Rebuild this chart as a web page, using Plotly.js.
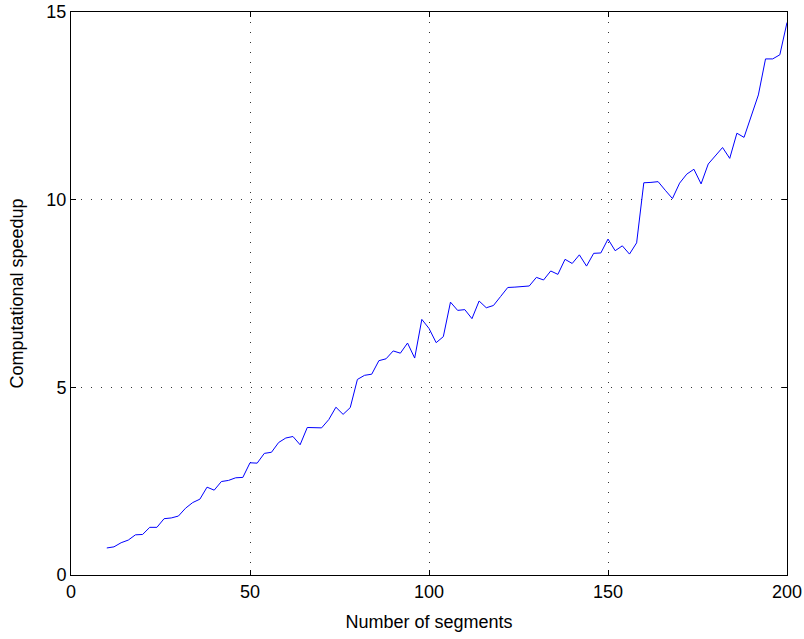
<!DOCTYPE html>
<html>
<head>
<meta charset="utf-8">
<script src="https://cdn.plot.ly/plotly-3.0.1.min.js"></script>
<style>html,body{margin:0;padding:0;background:#fff;}#chart{width:804px;height:639px;}</style>
</head>
<body>
<div id="chart"></div>
<script>
var segments = [10,12,14,16,18,20,22,24,26,28,30,32,34,36,38,40,42,44,46,48,50,52,54,56,58,60,62,64,66,68,70,72,74,76,78,80,82,84,86,88,90,92,94,96,98,100,102,104,106,108,110,112,114,116,118,120,122,124,126,128,130,132,134,136,138,140,142,144,146,148,150,152,154,156,158,160,162,164,166,168,170,172,174,176,178,180,182,184,186,188,190,192,194,196,198,200];
var speedup = [0.72,0.75,0.86,0.93,1.07,1.08,1.27,1.27,1.50,1.52,1.57,1.78,1.93,2.02,2.34,2.26,2.49,2.52,2.59,2.60,2.99,2.98,3.24,3.27,3.53,3.65,3.69,3.47,3.93,3.93,3.92,4.14,4.47,4.28,4.46,5.21,5.32,5.35,5.71,5.76,5.97,5.91,6.18,5.78,6.81,6.57,6.19,6.35,7.27,7.05,7.07,6.83,7.30,7.12,7.18,7.42,7.66,7.67,7.68,7.70,7.93,7.86,8.10,8.01,8.41,8.30,8.53,8.23,8.57,8.58,8.95,8.64,8.77,8.55,8.85,10.45,10.46,10.48,10.25,10.03,10.44,10.68,10.81,10.42,10.95,11.16,11.39,11.10,11.77,11.66,12.21,12.79,13.75,13.75,13.86,14.72];
var xTicks = [0,50,100,150,200];
var yTicks = [0,5,10,15];

var fontFam = 'Liberation Sans, Arial, sans-serif';
var axisCommon = {
  showline: true, linecolor: '#000', linewidth: 1, mirror: 'ticks',
  ticks: 'inside', ticklen: 5, tickcolor: '#000', tickwidth: 1,
  showgrid: true, gridcolor: '#333', griddash: '1px,9px', gridwidth: 1,
  zeroline: false, tickfont: {family: fontFam, size: 18, color: '#000'},
  tickmode: 'array'
};

var layout = {
  width: 804, height: 639,
  margin: {l: 71, r: 17, t: 12, b: 64},
  paper_bgcolor: '#fff', plot_bgcolor: '#fff',
  showlegend: false,
  xaxis: Object.assign({}, axisCommon, {
    range: [0, 200], tickvals: xTicks, ticktext: xTicks.map(String),
    title: {text: 'Number of segments', font: {family: fontFam, size: 18, color: '#000'}, standoff: 14}
  }),
  yaxis: Object.assign({}, axisCommon, {
    range: [0, 15], tickvals: yTicks, ticktext: yTicks.map(String),
    title: {text: 'Computational speedup', font: {family: fontFam, size: 18, color: '#000'}, standoff: 18}
  })
};

Plotly.newPlot('chart', [{
  x: segments, y: speedup, type: 'scatter', mode: 'lines',
  line: {color: '#0000ff', width: 1}
}], layout, {staticPlot: true});
</script>
</body>
</html>
